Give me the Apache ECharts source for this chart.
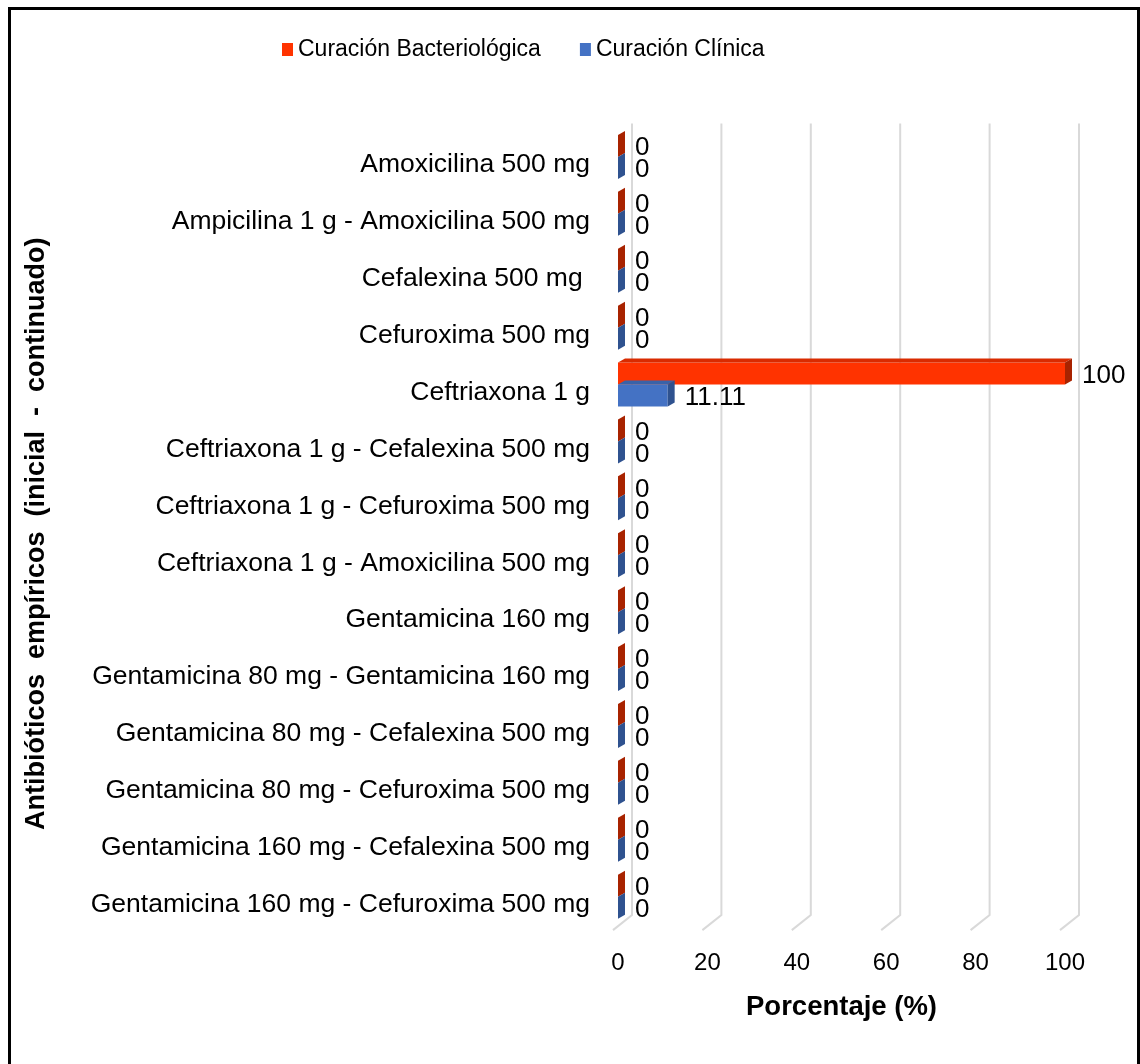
<!DOCTYPE html>
<html>
<head>
<meta charset="utf-8">
<script src="https://cdn.jsdelivr.net/npm/echarts@6/dist/echarts.min.js"></script>
<style>
  html, body { margin: 0; padding: 0; background: #fff; }
  #chart { width: 1140px; height: 1064px; }
</style>
</head>
<body>
<div id="chart"></div>
<script>
// categorías (de arriba hacia abajo)
var categorias = [
  "Amoxicilina 500 mg",
  "Ampicilina 1 g - Amoxicilina 500 mg",
  "Cefalexina 500 mg ",
  "Cefuroxima 500 mg",
  "Ceftriaxona 1 g",
  "Ceftriaxona 1 g - Cefalexina 500 mg",
  "Ceftriaxona 1 g - Cefuroxima 500 mg",
  "Ceftriaxona 1 g - Amoxicilina 500 mg",
  "Gentamicina 160 mg",
  "Gentamicina 80 mg - Gentamicina 160 mg",
  "Gentamicina 80 mg - Cefalexina 500 mg",
  "Gentamicina 80 mg - Cefuroxima 500 mg",
  "Gentamicina 160 mg - Cefalexina 500 mg",
  "Gentamicina 160 mg - Cefuroxima 500 mg"
];
var curacionBacteriologica = [0, 0, 0, 0, 100, 0, 0, 0, 0, 0, 0, 0, 0, 0];
var curacionClinica = [0, 0, 0, 0, 11.11, 0, 0, 0, 0, 0, 0, 0, 0, 0];
var ticksPct = [0, 20, 40, 60, 80, 100];

var FONT = "'Liberation Sans', Arial, sans-serif";

// colores de las caras (frente, arriba, lado)
var caras = [
  { front: "#FF3300", top: "#D92B00", side: "#A82300" },
  { front: "#4472C4", top: "#3A62A8", side: "#2F528F" }
];

var DX = 7, DY = 4; // profundidad de las barras "3D"

function barra3d(params, api) {
  var v = api.value(0);
  var cat = api.value(1);
  var p0 = api.coord([0, cat]);
  var p1 = api.coord([v, cat]);
  var banda = api.size([0, 1])[1];
  var h = banda * 0.387;
  var yt = params.seriesIndex === 0 ? p0[1] - h : p0[1];
  var yb = yt + h;
  var x0 = p0[0], x1 = p1[0];
  var c = caras[params.seriesIndex];
  var hijos = [];
  if (x1 - x0 > 0.5) {
    hijos.push({ type: "rect", shape: { x: x0, y: yt, width: x1 - x0, height: h }, style: { fill: c.front } });
    hijos.push({ type: "polygon", shape: { points: [[x0, yt], [x1, yt], [x1 + DX, yt - DY], [x0 + DX, yt - DY]] }, style: { fill: c.top } });
  }
  hijos.push({ type: "polygon", shape: { points: [[x1, yt], [x1 + DX, yt - DY], [x1 + DX, yb - DY], [x1, yb]] }, style: { fill: c.side } });
  hijos.push({
    type: "text",
    style: {
      text: String(v), x: x1 + DX + 10, y: (yt + yb) / 2 + 2,
      fill: "#000", fontSize: 26, fontFamily: FONT,
      align: "left", verticalAlign: "middle"
    }
  });
  return { type: "group", children: hijos };
}

function rejilla(params, api) {
  var cs = params.coordSys;
  var xf = api.coord([api.value(0), 0])[0];
  var abajo = cs.y + cs.height;
  return {
    type: "polyline",
    shape: { points: [[xf - 5, abajo + 5], [xf + 14, abajo - 10], [xf + 14, cs.y - 5]] },
    style: { stroke: "#D9D9D9", lineWidth: 2, fill: null }
  };
}

var chart = echarts.init(document.getElementById("chart"));
chart.setOption({
  animation: false,
  backgroundColor: "#fff",
  textStyle: { fontFamily: FONT },
  graphic: [{
    type: "rect", silent: true,
    shape: { x: 9.5, y: 8.5, width: 1129, height: 1100 },
    style: { fill: null, stroke: "#000", lineWidth: 3 }
  }],
  legend: {
    top: 33, left: 277,
    itemWidth: 11, itemHeight: 13, itemGap: 39,
    icon: "rect",
    textStyle: { fontSize: 23, color: "#000", fontFamily: FONT },
    data: ["Curación Bacteriológica", "Curación Clínica"]
  },
  grid: { left: 618, right: 75, top: 128.5, height: 796.6 },
  xAxis: {
    type: "value", min: 0, max: 100, interval: 20,
    axisLine: { show: false }, axisTick: { show: false }, splitLine: { show: false },
    axisLabel: { fontSize: 24, color: "#000", margin: 26, fontFamily: FONT },
    name: "Porcentaje (%)", nameLocation: "middle", nameGap: 68,
    nameTextStyle: { fontSize: 27.5, fontWeight: "bold", color: "#000", fontFamily: FONT }
  },
  yAxis: {
    type: "category", inverse: true, data: categorias,
    axisLine: { show: false }, axisTick: { show: false },
    axisLabel: {
      fontSize: 26.5, color: "#000", margin: 28, fontFamily: FONT,
      verticalAlign: "top", lineHeight: 16
    },
    name: "Antibióticos  empíricos  (inicial  -  continuado)",
    nameLocation: "middle", nameRotate: 90, nameGap: 568,
    nameTextStyle: { fontSize: 27, fontWeight: "bold", color: "#000", fontFamily: FONT, padding: [0, 14, 0, 0] }
  },
  series: [
    {
      name: "Curación Bacteriológica", type: "custom", z: 3, silent: true,
      itemStyle: { color: "#FF3300" },
      encode: { x: 0, y: 1 },
      data: curacionBacteriologica.map(function (v, i) { return [v, i]; }),
      renderItem: barra3d
    },
    {
      name: "Curación Clínica", type: "custom", z: 4, silent: true,
      itemStyle: { color: "#4472C4" },
      encode: { x: 0, y: 1 },
      data: curacionClinica.map(function (v, i) { return [v, i]; }),
      renderItem: barra3d
    },
    {
      name: "rejilla", type: "custom", z: 1, silent: true,
      encode: { x: 0, y: 1 },
      data: ticksPct.map(function (t) { return [t, 0]; }),
      renderItem: rejilla
    }
  ]
});
</script>
</body>
</html>
